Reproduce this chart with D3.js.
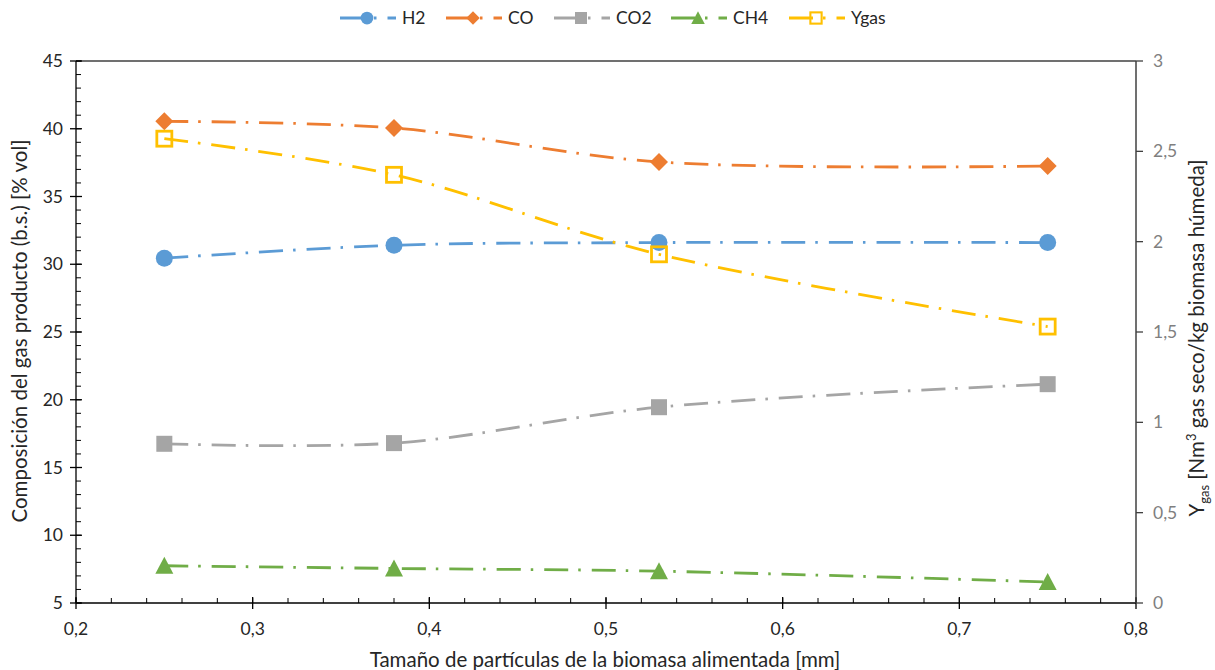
<!DOCTYPE html>
<html>
<head>
<meta charset="utf-8">
<script src="https://cdn.jsdelivr.net/npm/d3@7"></script>
<style>
  body { margin: 0; background: #fff; }
  svg { font-family: Lato, "Liberation Sans", sans-serif; }
</style>
</head>
<body>
<svg id="chart" width="1215" height="670"></svg>
<script>
// particle size [mm]
const sizes = [0.25, 0.38, 0.53, 0.75];

// gas composition [% vol, dry basis]
const h2  = [30.45, 31.4, 31.6, 31.6];
const co  = [40.55, 40.05, 37.55, 37.25];
const co2 = [16.75, 16.8, 19.45, 21.15];
const ch4 = [7.75, 7.55, 7.35, 6.55];
// gas yield [Nm3/kg], right axis
const ygas = [2.57, 2.37, 1.93, 1.53];

const xTicks = [0.2, 0.3, 0.4, 0.5, 0.6, 0.7, 0.8];
const yLeftTicks = [5, 10, 15, 20, 25, 30, 35, 40, 45];
const yRightTicks = [0, 0.5, 1, 1.5, 2, 2.5, 3];

const series = [
  {name: "H2",   values: h2,   color: "#5B9BD5", shape: "circle",   axis: "left"},
  {name: "CO",   values: co,   color: "#ED7D31", shape: "diamond",  axis: "left"},
  {name: "CO2",  values: co2,  color: "#A5A5A5", shape: "square",   axis: "left"},
  {name: "CH4",  values: ch4,  color: "#70AD47", shape: "triangle", axis: "left"},
  {name: "Ygas", values: ygas, color: "#FFC000", shape: "open",     axis: "right"}
];

const svg = d3.select("#chart");
const plotL = 76, plotR = 1136, plotT = 61, plotB = 603;
const dash = "24,10,2.5,11";
const fmt = d => String(d).replace(".", ",");

const x = d3.scaleLinear().domain([0.2, 0.8]).range([plotL, plotR]);
const yL = d3.scaleLinear().domain([5, 45]).range([plotB, plotT]);
const yR = d3.scaleLinear().domain([0, 3]).range([plotB, plotT]);

// top border
svg.append("line")
  .attr("x1", plotL).attr("x2", plotR).attr("y1", plotT).attr("y2", plotT)
  .attr("stroke", "#404040").attr("stroke-width", 1.5);

// x axis: minor ticks inside, major crossing
const xAxis = svg.append("g").attr("transform", `translate(0,${plotB})`);
xAxis.append("line").attr("x1", plotL).attr("x2", plotR).attr("stroke", "#000").attr("stroke-width", 1.3);
xAxis.selectAll(".minor").data(d3.range(0.2, 0.8001, 0.02))
  .join("line").attr("x1", d => x(d)).attr("x2", d => x(d))
  .attr("y1", 0).attr("y2", -5).attr("stroke", "#000");
xAxis.selectAll(".major").data(xTicks)
  .join("line").attr("x1", d => x(d)).attr("x2", d => x(d))
  .attr("y1", -6).attr("y2", 6).attr("stroke", "#000").attr("stroke-width", 1.3);
xAxis.selectAll("text").data(xTicks).join("text")
  .attr("x", d => x(d)).attr("y", 32)
  .attr("text-anchor", "middle").attr("font-size", 17.5).attr("fill", "#262626")
  .text(fmt);

// left axis
const yAxisL = svg.append("g").attr("transform", `translate(${plotL},0)`);
yAxisL.append("line").attr("y1", plotT).attr("y2", plotB).attr("stroke", "#000").attr("stroke-width", 1.3);
yAxisL.selectAll(".minor").data(d3.range(5, 45.01, 1))
  .join("line").attr("y1", d => yL(d)).attr("y2", d => yL(d))
  .attr("x1", 0).attr("x2", 5).attr("stroke", "#000");
yAxisL.selectAll(".major").data(yLeftTicks)
  .join("line").attr("y1", d => yL(d)).attr("y2", d => yL(d))
  .attr("x1", -6).attr("x2", 6).attr("stroke", "#000").attr("stroke-width", 1.3);
yAxisL.selectAll("text").data(yLeftTicks).join("text")
  .attr("x", -13).attr("y", d => yL(d)).attr("dy", "0.35em")
  .attr("text-anchor", "end").attr("font-size", 17.5).attr("fill", "#262626")
  .text(fmt);

// right axis
const yAxisR = svg.append("g").attr("transform", `translate(${plotR},0)`);
yAxisR.append("line").attr("y1", plotT).attr("y2", plotB).attr("stroke", "#404040").attr("stroke-width", 1.5);
yAxisR.selectAll(".major").data(yRightTicks)
  .join("line").attr("y1", d => yR(d)).attr("y2", d => yR(d))
  .attr("x1", 0).attr("x2", 7).attr("stroke", "#404040").attr("stroke-width", 1.3);
yAxisR.selectAll("text").data(yRightTicks).join("text")
  .attr("x", 17).attr("y", d => yR(d)).attr("dy", "0.35em")
  .attr("font-size", 17.5).attr("fill", "#7f7f7f")
  .text(fmt);

// axis titles
svg.append("text")
  .attr("x", 605).attr("y", 667).attr("text-anchor", "middle")
  .attr("font-size", 20.5).attr("fill", "#262626")
  .text("Tamaño de partículas de la biomasa alimentada [mm]");

svg.append("text")
  .attr("transform", "translate(27,331) rotate(-90)")
  .attr("text-anchor", "middle").attr("font-size", 20.5).attr("fill", "#262626")
  .text("Composición del gas producto (b.s.) [% vol]");

const rt = svg.append("text")
  .attr("transform", "translate(1204,338) rotate(-90)")
  .attr("text-anchor", "middle").attr("font-size", 20.5).attr("fill", "#262626");
rt.append("tspan").text("Y");
rt.append("tspan").attr("font-size", 13).attr("dy", 5).text("gas");
rt.append("tspan").attr("dy", -5).text(" [Nm");
rt.append("tspan").attr("font-size", 13).attr("dy", -8).text("3");
rt.append("tspan").attr("dy", 8).text(" gas seco/kg biomasa húmeda]");

// marker drawing
function drawMarker(g, shape, color) {
  if (shape === "circle") {
    g.append("circle").attr("r", 8.5).attr("fill", color);
  } else if (shape === "diamond") {
    g.append("path").attr("d", "M0,-9L9,0L0,9L-9,0Z").attr("fill", color);
  } else if (shape === "square") {
    g.append("rect").attr("x", -8).attr("y", -8).attr("width", 16).attr("height", 16).attr("fill", color);
  } else if (shape === "triangle") {
    g.append("path").attr("d", "M0,-9L9,8L-9,8Z").attr("fill", color);
  } else {
    g.append("rect").attr("x", -7.5).attr("y", -7.5).attr("width", 15).attr("height", 15)
      .attr("fill", "none").attr("stroke", color).attr("stroke-width", 2.8);
  }
}

const plot = svg.append("g");
series.forEach(s => {
  const yScale = s.axis === "left" ? yL : yR;
  const pts = sizes.map((v, i) => [x(v), yScale(s.values[i])]);
  plot.append("path")
    .attr("d", d3.line().curve(d3.curveCatmullRom.alpha(0.5))(pts))
    .attr("fill", "none").attr("stroke", s.color)
    .attr("stroke-width", 2.8).attr("stroke-dasharray", dash);
});
series.forEach(s => {
  const yScale = s.axis === "left" ? yL : yR;
  sizes.forEach((v, i) => {
    const g = plot.append("g").attr("transform", `translate(${x(v)},${yScale(s.values[i])})`);
    drawMarker(g, s.shape, s.color);
  });
});

// legend
const legendX = [340, 446, 554, 671, 789];
const legend = svg.append("g").attr("transform", "translate(0,18)");
series.forEach((s, i) => {
  const g = legend.append("g").attr("transform", `translate(${legendX[i]},0)`);
  g.append("line").attr("x1", 0).attr("x2", 56)
    .attr("stroke", s.color).attr("stroke-width", 2.8).attr("stroke-dasharray", dash);
  const m = g.append("g").attr("transform", "translate(27,0) scale(0.75)");
  drawMarker(m, s.shape, s.color);
  g.append("text").attr("x", 62).attr("dy", "0.35em")
    .attr("font-size", 17.5).attr("fill", "#262626").text(s.name);
});
</script>
</body>
</html>
